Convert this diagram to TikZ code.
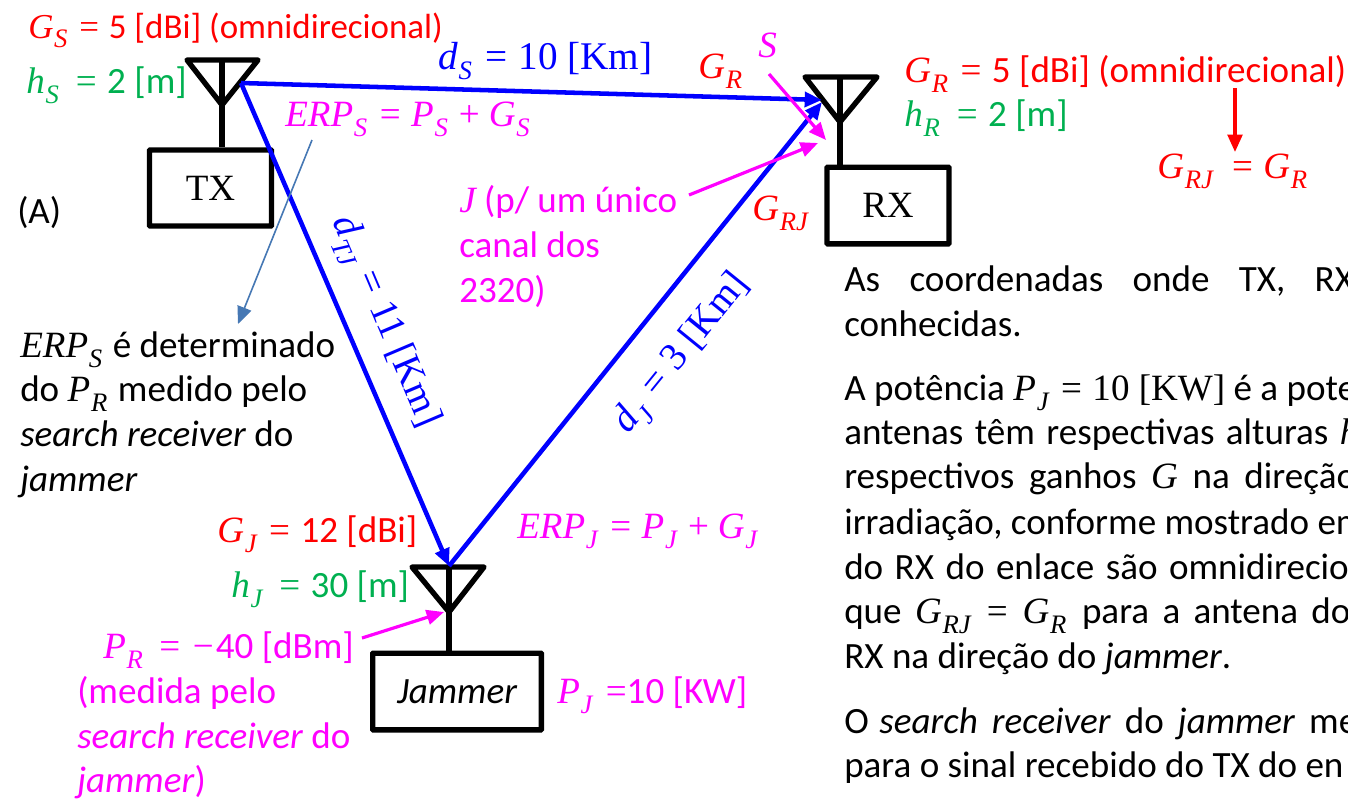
\documentclass[tikz,border=0pt]{standalone}
\usepackage{amsmath,amssymb,amsfonts}
\usepackage{xcolor}
\usepackage{fontspec}
\setmainfont{Carlito}
\newfontfamily\srffont{Liberation Serif}
\usepackage{tikz}
\usetikzlibrary{arrows.meta}
\definecolor{erpmag}{RGB}{255,0,255}
\definecolor{hgreen}{RGB}{0,176,80}
\definecolor{linkblue}{RGB}{0,0,255}
\definecolor{noteblue}{RGB}{70,120,180}
\newcommand{\mvar}[2]{{\srffont\itshape #1\kern0.02em\raisebox{-0.28em}{\fontsize{20}{20}\selectfont #2}\kern0.06em}}
\newcommand{\eqs}{{\srffont\hspace{0.28em}=\hspace{0.28em}}}
\newcommand{\pls}{{\srffont\hspace{0.24em}+\hspace{0.24em}}}
\newcommand{\srf}[1]{{\srffont #1}}
\newcommand{\wds}{\spaceskip=8.6pt\relax}
\tikzset{
  txt/.style={anchor=base west,inner sep=0pt,font=\fontsize{27.8}{33}\selectfont},
  dlabel/.style={text=linkblue,inner sep=0pt,font=\fontsize{29.4}{33}\selectfont},
  radio/.style={draw,line width=4pt,rounded corners=0.5pt,inner sep=0pt,font=\fontsize{27.8}{33}\selectfont},
  ant/.style={draw,line width=4pt,line join=round},
  linkline/.style={draw=linkblue,line width=3.4pt,-{Triangle[length=13pt,width=11pt]}},
  pointer/.style={draw=erpmag,line width=2.4pt,-{Triangle[length=13pt,width=11pt]}},
}
\begin{document}
\begin{tikzpicture}[x=0.75pt,y=-0.75pt]
  \useasboundingbox (0,0) rectangle (1348,800);
  \clip (0,0) rectangle (1348,800);
  % radios
  \node[radio,minimum width=91.5pt,minimum height=57pt] (tx) at (210.5,188) {\srffont TX};
  \node[radio,minimum width=91.5pt,minimum height=57.5pt] (rx) at (888,205.5) {\srffont RX};
  \node[radio,minimum width=126.5pt,minimum height=57.5pt] (jam) at (457,691.5) {\itshape Jammer};
  % antennas
  \coordinate (tstart) at (187,60); \coordinate (tend) at (258,60);
  \coordinate (ttip) at (222,105); \coordinate (ttop) at (222,60);
  \draw[ant] (tstart) -- (tend) -- (ttip) -- cycle;
  \draw[ant] (ttop) -- (ttip) -- (ttip |- tx.north);
  \coordinate (rstart) at (805,77); \coordinate (rend) at (877,77);
  \coordinate (rtip) at (840,122); \coordinate (rtop) at (840,77);
  \draw[ant] (rstart) -- (rend) -- (rtip) -- cycle;
  \draw[ant] (rtop) -- (rtip) -- (rtip |- rx.north);
  \coordinate (jstart) at (412,567); \coordinate (jend) at (484,567);
  \coordinate (jtip) at (449,612); \coordinate (jtop) at (449,567);
  \draw[ant] (jstart) -- (jend) -- (jtip) -- cycle;
  \draw[ant] (jtop) -- (jtip) -- (jtip |- jam.north);
  % links
  \coordinate (linka) at (241,83); \coordinate (linkb) at (822,100);
  \coordinate (linkc) at (822,102); \coordinate (linkd) at (449,566);
  \draw[linkline] (linka) -- (linkb);
  \draw[linkline] (linka) -- (linkd);
  \draw[linkline] (linkd) -- (linkc);
  \node[dlabel,anchor=base west] (ds) at (438,69) {\mvar{d}{S}\eqs\srf{10 [Km]}};
  \node[dlabel,rotate=-67] (dtj) at (384,322) {\mvar{d}{TJ}\eqs\srf{11 [Km]}};
  \node[dlabel,rotate=51] (dj) at (683,354) {\mvar{d}{J}\eqs\srf{3 [Km]}};
  % TX labels
  \node[txt,text=red,font=\fontsize{26.2}{31}\selectfont] (gs) at (28,38) {\mvar{G}{S}\eqs 5 [dBi] (omnidirecional)};
  \node[txt,text=hgreen] (hs) at (26,93) {\mvar{h}{S}\hspace{0.12em}\eqs 2 [m]};
  \node[txt,text=erpmag] (erps) at (285,126) {\mvar{ERP}{S}\eqs\mvar{P}{S}\pls\mvar{G}{S}};
  \node[txt] (a) at (17,223) {(A)};
  % RX labels
  \node[txt,text=red] (gr) at (698,78) {\mvar{G}{R}};
  \node[txt,text=erpmag] (sl) at (758,57) {{\srffont\itshape S}};
  \node[txt,text=red] (grfull) at (904,82) {\mvar{G}{R}\eqs 5 [dBi] (omnidirecional)};
  \node[txt,text=hgreen] (hr) at (904,126) {\mvar{h}{R}\hspace{0.12em}\eqs 2 [m]};
  \node[txt,text=red] (grj) at (752,220) {\mvar{G}{RJ}};
  \node[txt,text=red] (grjeq) at (1157,178) {\mvar{G}{RJ}\hspace{0.18em}\eqs\mvar{G}{R}};
  \coordinate (grtop) at (1235,88); \coordinate (grbot) at (1235,152);
  \draw[draw=red,line width=2.4pt,-{Triangle[length=13pt,width=11pt]}] (grtop) -- (grbot);
  % pointers
  \coordinate (sfrom) at (769,74); \coordinate (sto) at (826,140);
  \draw[pointer] (sfrom) -- (sto);
  \coordinate (jfrom) at (689,195); \coordinate (jto) at (818,143);
  \draw[pointer] (jfrom) -- (jto);
  \node[txt,text=erpmag] (jl1) at (459,212) {{\srffont\itshape J} (p/ um único};
  \node[txt,text=erpmag] (jl2) at (459,257) {canal dos};
  \node[txt,text=erpmag] (jl3) at (459,302) {2320)};
  % note on ERP_S
  \coordinate (nfrom) at (312,140); \coordinate (nto) at (238,324);
  \draw[draw=noteblue,line width=1.2pt,-{Triangle[length=13pt,width=11pt]}] (nfrom) -- (nto);
  \node[txt] (n1) at (20,357) {\mvar{ERP}{S} é determinado};
  \node[txt] (n2) at (20,401) {do \mvar{P}{R} medido pelo};
  \node[txt] (n3) at (20,446) {\textit{search receiver} do};
  \node[txt] (n4) at (20,491) {\textit{jammer}};
  % jammer labels
  \node[txt,text=red] (gj) at (217,542) {\mvar{G}{J}\eqs 12 [dBi]};
  \node[txt,text=hgreen] (hj) at (231,597) {\mvar{h}{J}\hspace{0.12em}\eqs 30 [m]};
  \node[txt,text=erpmag] (erpj) at (517,538) {\mvar{ERP}{J}\eqs\mvar{P}{J}\pls\mvar{G}{J}};
  \node[txt,text=erpmag] (pr) at (103,658) {\mvar{P}{R}\hspace{0.1em}\eqs\hspace{0.06em}{\srffont\textminus}\hspace{0.06em}40 [dBm]};
  \node[txt,text=erpmag] (m1) at (77,703) {(medida pelo};
  \node[txt,text=erpmag] (m2) at (77,748) {\textit{search receiver} do};
  \node[txt,text=erpmag] (m3) at (77,792) {\textit{jammer})};
  \node[txt,text=erpmag] (pj) at (557,703) {\mvar{P}{J}{\srffont\hspace{0.3em}=}10 [KW]};
  \coordinate (prfrom) at (362,638); \coordinate (prto) at (444,612);
  \draw[pointer] (prfrom) -- (prto);
  % right text
  \node[txt] (t1) at (844,291) {As\hspace{22pt}coordenadas\hspace{22pt}onde\hspace{22pt}TX,\hspace{22pt}RX};
  \node[txt] (t2) at (844,336) {conhecidas.};
  \node[txt] (t3) at (844,400) {A potência \mvar{P}{J}\eqs\srf{10 [KW]} é a pote};
  \node[txt] (t4) at (844,444) {\wds antenas têm respectivas alturas {\srffont\itshape h}};
  \node[txt] (t5) at (844,488) {respectivos\hspace{11pt}ganhos\hspace{11pt}{\srffont\itshape G}\hspace{11pt}na\hspace{11pt}direção};
  \node[txt] (t6) at (844,534) {irradiação, conforme mostrado em};
  \node[txt] (t7) at (844,579) {\wds do RX do enlace são omnidirecio};
  \node[txt] (t8) at (844,623) {que\hspace{10pt}\mvar{G}{RJ}\hspace{0.1em}\eqs\hspace{0.12em}\mvar{G}{R}\hspace{10pt}para\hspace{10pt}a\hspace{10pt}antena\hspace{10pt}do};
  \node[txt] (t9) at (844,668) {RX na direção do \textit{jammer}.};
  \node[txt] (t10) at (844,733) {O\hspace{8pt}\textit{search}\hspace{10.5pt}\textit{receiver}\hspace{10.5pt}do\hspace{10.5pt}\textit{jammer}\hspace{10.5pt}me};
  \node[txt] (t11) at (844,777) {para o sinal recebido do TX do en};
\end{tikzpicture}
\end{document}
